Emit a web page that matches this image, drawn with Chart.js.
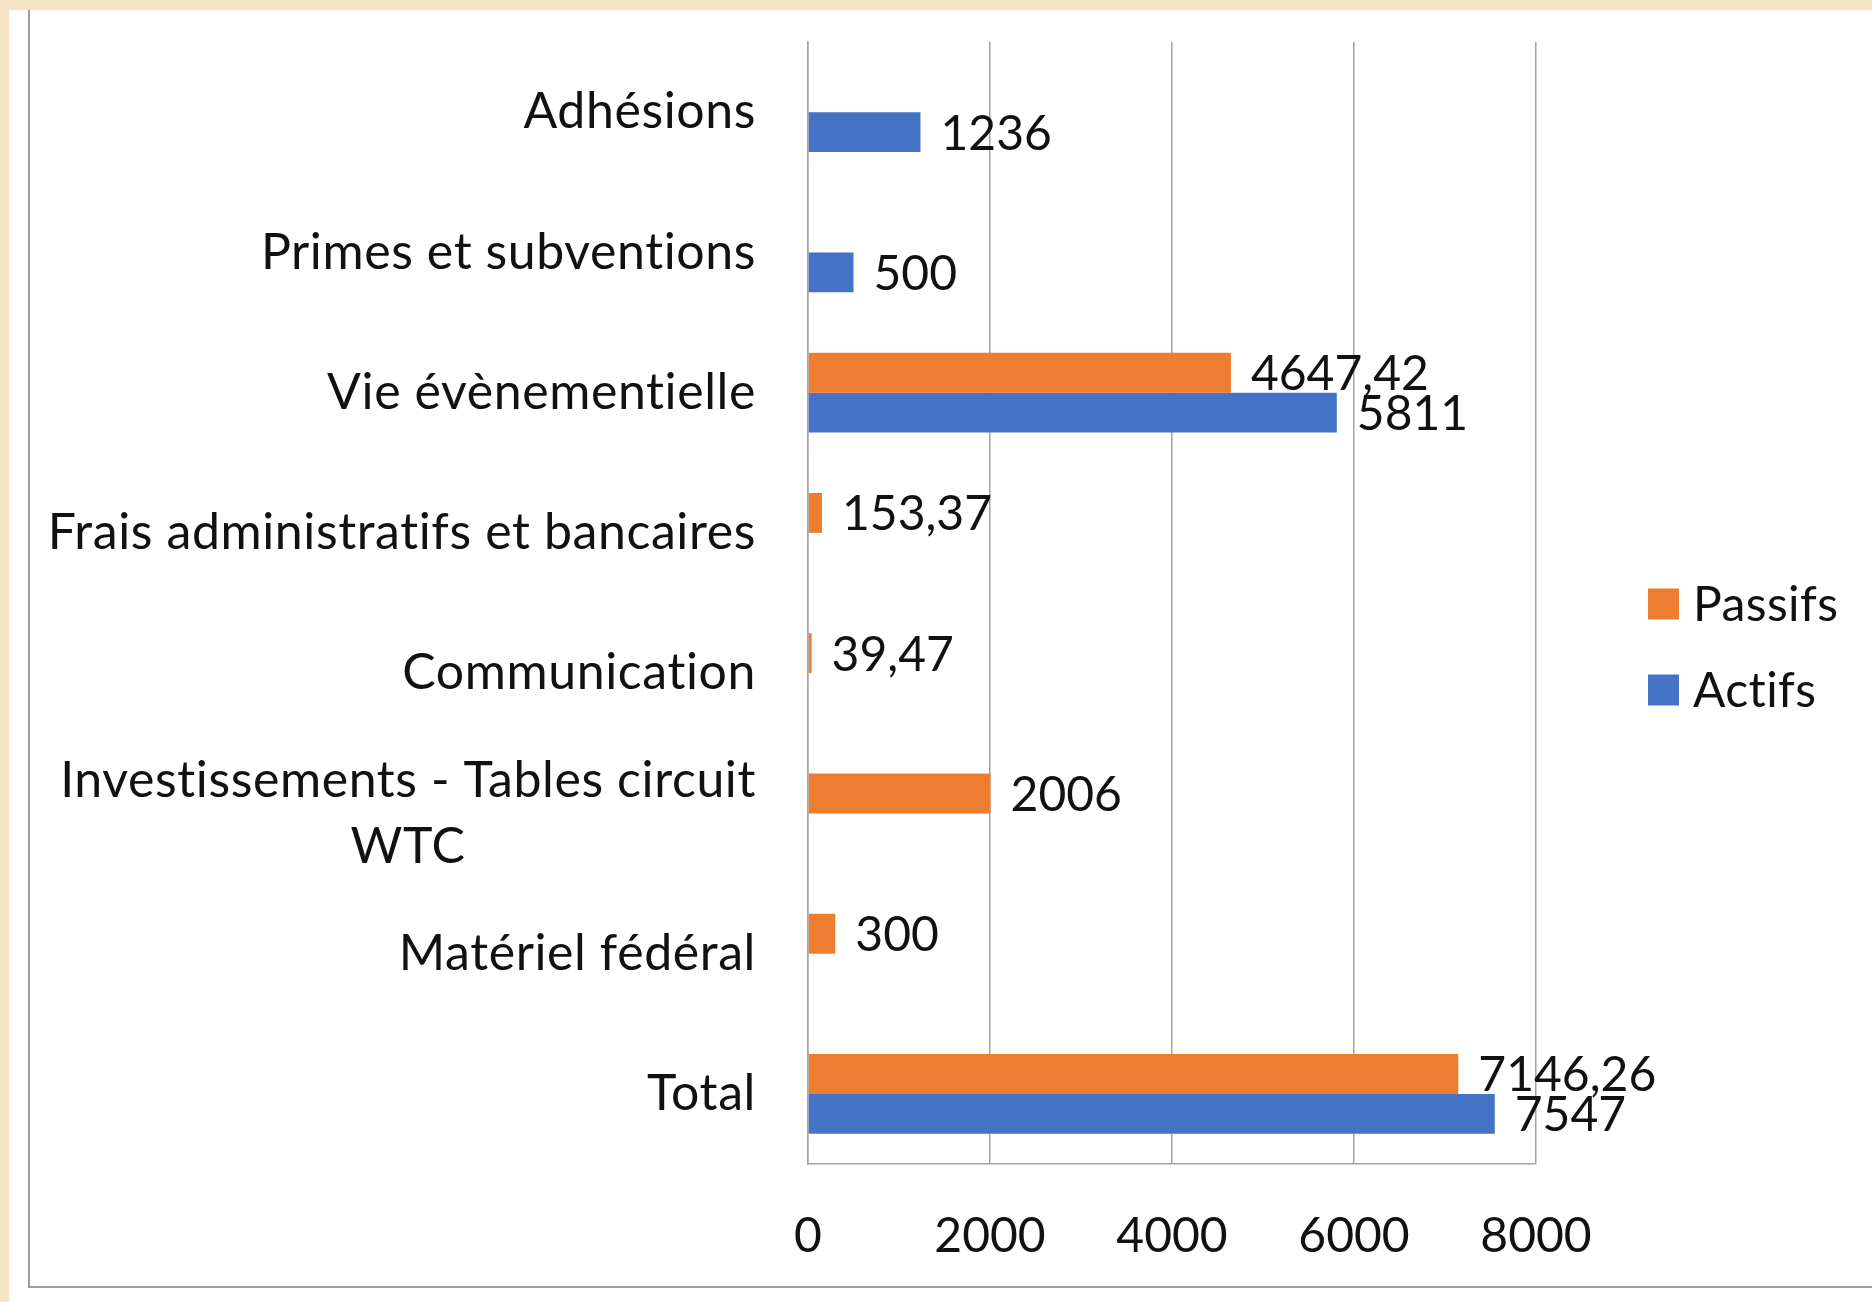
<!DOCTYPE html>
<html lang="fr">
<head>
<meta charset="utf-8">
<title>Actifs / Passifs</title>
<script src="https://cdn.jsdelivr.net/npm/chart.js@4.4.1/dist/chart.umd.min.js"></script>
<style>
    html, body {
        margin: 0;
        padding: 0;
        width: 1872px;
        height: 1302px;
        overflow: hidden;
        background: #f4e4c5;
    }
    #sheet {
        position: absolute;
        left: 9px;
        top: 10px;
        right: 0;
        bottom: 0;
        background: #ffffff;
    }
    #frame {
        position: absolute;
        left: 28px;
        top: 10px;
        width: 1844px;
        height: 1276px;
        border-left: 2px solid #9c9c9c;
        border-bottom: 2px solid #9c9c9c;
    }
    #wrap {
        position: absolute;
        left: 0;
        top: 0;
        width: 1872px;
        height: 1302px;
    }
</style>
</head>
<body>
<div id="sheet"></div>
<div id="frame"></div>
<div id="wrap"><canvas id="bilanChart"></canvas></div>

<script>
const categories = [
    ['Adhésions'],
    ['Primes et subventions'],
    ['Vie évènementielle'],
    ['Frais administratifs et bancaires'],
    ['Communication'],
    ['Investissements - Tables circuit', 'WTC'],
    ['Matériel fédéral'],
    ['Total']
];
const passifs = [null, null, 4647.42, 153.37, 39.47, 2006, 300, 7146.26];
const actifs = [1236, 500, 5811, null, null, null, null, 7547];
const xTicks = [0, 2000, 4000, 6000, 8000];

const FONT = '"Lato", "Open Sans", sans-serif';
const TEXT_SIZE = 48;
const LABEL_SIZE = 50;
const TEXT_COLOR = '#111111';
const ORANGE = '#ED7D31';
const BLUE = '#4472C4';
const GRID = '#a3a3a3';

function frNumber(v) {
    return String(v).replace('.', ',');
}

// category labels: block right-aligned on the axis, lines centred in the block
const categoryLabels = {
    id: 'categoryLabels',
    afterDraw(chart) {
        const ctx = chart.ctx;
        const y = chart.scales.y;
        const right = chart.chartArea.left - 52;
        const lineH = 66;
        ctx.save();
        ctx.font = LABEL_SIZE + 'px ' + FONT;
        ctx.letterSpacing = '0.6px';
        ctx.fillStyle = TEXT_COLOR;
        ctx.textAlign = 'center';
        ctx.textBaseline = 'middle';
        categories.forEach((lines, i) => {
            const cy = y.getPixelForTick(i);
            const widest = Math.max(...lines.map(l => ctx.measureText(l).width));
            const cx = right - widest / 2;
            const top = cy - (lines.length - 1) * lineH / 2;
            lines.forEach((l, k) => ctx.fillText(l, cx, top + k * lineH));
        });
        ctx.restore();
    }
};

// value labels just past the end of each bar
const valueLabels = {
    id: 'valueLabels',
    afterDatasetsDraw(chart) {
        const ctx = chart.ctx;
        ctx.save();
        ctx.font = TEXT_SIZE + 'px ' + FONT;
        ctx.fillStyle = TEXT_COLOR;
        ctx.textAlign = 'left';
        ctx.textBaseline = 'middle';
        chart.data.datasets.forEach((ds, di) => {
            const meta = chart.getDatasetMeta(di);
            meta.data.forEach((bar, i) => {
                const v = ds.data[i];
                if (v === null || v === undefined) return;
                ctx.fillText(frNumber(v), bar.x + 20, bar.y + 2);
            });
        });
        ctx.restore();
    }
};

// legend on the right, squares + names
const sideLegend = {
    id: 'sideLegend',
    afterDraw(chart) {
        const ctx = chart.ctx;
        const x = chart.chartArea.right + 112;
        const size = 31;
        const ys = [604, 690];
        ctx.save();
        ctx.font = TEXT_SIZE + 'px ' + FONT;
        ctx.letterSpacing = '0.4px';
        ctx.textAlign = 'left';
        ctx.textBaseline = 'middle';
        chart.data.datasets.forEach((ds, i) => {
            ctx.fillStyle = ds.backgroundColor;
            ctx.fillRect(x, ys[i] - size / 2, size, size);
            ctx.fillStyle = TEXT_COLOR;
            ctx.fillText(ds.label, x + 45, ys[i] + 2);
        });
        ctx.restore();
    }
};

function initChart() {
    const ctx = document.getElementById('bilanChart');

    new Chart(ctx, {
        type: 'bar',
        data: {
            labels: categories.map(c => c.join(' ')),
            datasets: [{
                label: 'Passifs',
                data: passifs,
                backgroundColor: ORANGE,
                borderWidth: 0
            }, {
                label: 'Actifs',
                data: actifs,
                backgroundColor: BLUE,
                borderWidth: 0
            }]
        },
        plugins: [valueLabels, categoryLabels, sideLegend],
        options: {
            indexAxis: 'y',
            responsive: true,
            maintainAspectRatio: false,
            animation: false,
            layout: {
                padding: {
                    left: 0,
                    right: 336,
                    top: 42,
                    bottom: 0
                }
            },
            datasets: {
                bar: {
                    categoryPercentage: 0.57,
                    barPercentage: 1
                }
            },
            scales: {
                x: {
                    min: 0,
                    max: 8000,
                    afterBuildTicks: function (scale) {
                        scale.ticks = xTicks.map(v => ({ value: v }));
                    },
                    afterFit: function (scale) {
                        scale.height = 138;
                    },
                    grid: {
                        color: GRID,
                        lineWidth: 1.5,
                        drawTicks: false
                    },
                    border: {
                        display: true,
                        color: GRID,
                        width: 1.5
                    },
                    ticks: {
                        padding: 44,
                        color: TEXT_COLOR,
                        font: { family: FONT, size: TEXT_SIZE },
                        callback: function (value) {
                            return String(value);
                        }
                    }
                },
                y: {
                    afterFit: function (scale) {
                        scale.width = 808;
                    },
                    grid: {
                        display: false
                    },
                    border: {
                        display: true,
                        color: GRID,
                        width: 1.5
                    },
                    ticks: {
                        display: false
                    }
                }
            },
            plugins: {
                legend: { display: false },
                tooltip: { enabled: false }
            }
        }
    });
}

document.addEventListener('DOMContentLoaded', function () {
    initChart();
});
</script>
</body>
</html>
